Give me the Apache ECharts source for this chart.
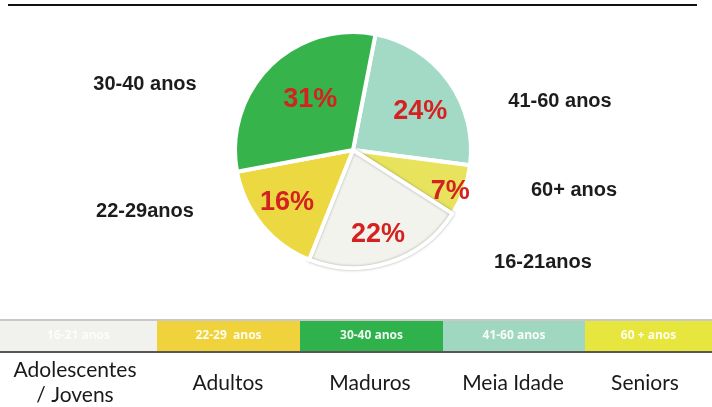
<!DOCTYPE html>
<html>
<head>
<meta charset="utf-8">
<script src="https://cdn.jsdelivr.net/npm/echarts@6/dist/echarts.min.js"></script>
<style>
  html, body { margin: 0; padding: 0; background: #fff; }
  #chart { width: 712px; height: 407px; }
</style>
</head>
<body>
<div id="chart"></div>
<script>
'use strict';

// pie slices, clockwise from the top
var sliceNames = ['41-60 anos', '60+ anos', '16-21anos', '22-29anos', '30-40 anos'];
var sliceValues = [24, 7, 22, 16, 31];
var sliceColors = ['#a3dac6', '#e7e35c', '#f3f3ee', '#ecd840', '#36b44b'];

// bottom band
var bandLabels = ['16-21 anos', '22-29  anos', '30-40 anos', '41-60 anos', '60 + anos'];
var bandColors = ['#f1f1ee', '#f0d33c', '#2fb14b', '#9fd7c1', '#e7e63e'];
var groupNames = ['Adolescentes\n/ Jovens', 'Adultos', 'Maduros', 'Meia Idade', 'Seniors'];

// layout only
var outerLabelPos = [[560, 101], [574, 190], [543, 262], [145, 211], [145, 84]];
var innerLabelShift = [[17, -2], [39, 20], [6, 26], [-18, 13], [1, -6]];
var bandEdges = [0, 157, 300, 443, 585, 712];
var groupCenters = [75, 228, 370, 513, 645];

var chart = echarts.init(document.getElementById('chart'), null, { renderer: 'canvas' });

var pieData = sliceNames.map(function (n, i) {
    var item = { name: n, value: sliceValues[i], itemStyle: { color: sliceColors[i] } };
    if (i === 2) {
        // the pale slice has a soft grey edge in the print
        item.itemStyle.shadowBlur = 3;
        item.itemStyle.shadowColor = 'rgba(0,0,0,0.3)';
    }
    return item;
});

var graphics = [
    { type: 'rect', shape: { x: 8, y: 4, width: 689, height: 2 }, style: { fill: '#111' } }
];

// outer category labels
sliceNames.forEach(function (n, i) {
    graphics.push({
        type: 'text', x: outerLabelPos[i][0], y: outerLabelPos[i][1],
        style: {
            text: n, fill: '#1c1c1c', font: 'bold 20px "Liberation Sans", Arial, sans-serif',
            align: 'center', verticalAlign: 'middle'
        }
    });
});

// band
graphics.push({ type: 'rect', shape: { x: 0, y: 319, width: 712, height: 2 }, style: { fill: '#c8c8c8' } });
bandLabels.forEach(function (t, i) {
    var x0 = bandEdges[i], x1 = bandEdges[i + 1];
    graphics.push({
        type: 'rect', shape: { x: x0, y: 321, width: x1 - x0, height: 30 },
        style: { fill: bandColors[i] }
    });
    graphics.push({
        type: 'text', x: (x0 + x1) / 2, y: 336,
        style: {
            text: t, fill: '#ffffff', opacity: i === 0 ? 0.8 : 0.92,
            font: 'bold 12px "Open Sans", sans-serif', align: 'center', verticalAlign: 'middle'
        }
    });
});
graphics.push({ type: 'rect', shape: { x: 0, y: 351, width: 712, height: 2 }, style: { fill: '#5a5650' } });

groupNames.forEach(function (g, i) {
    graphics.push({
        type: 'text', x: groupCenters[i], y: 383,
        style: {
            text: g, fill: '#1a1a1a', font: '21px Lato, sans-serif',
            align: 'center', verticalAlign: 'middle', lineHeight: 25
        }
    });
});

var option = {
    backgroundColor: '#ffffff',
    animation: false,
    series: [
        {
            type: 'pie',
            center: [353, 150],
            radius: [0, 118],
            startAngle: 79,
            clockwise: true,
            data: pieData,
            itemStyle: {
                borderColor: '#ffffff',
                borderWidth: 4
            },
            label: {
                position: 'inside',
                formatter: '{c}%',
                color: '#d42222',
                fontSize: 27,
                fontWeight: 'bold',
                fontFamily: '"Liberation Sans", Arial, sans-serif'
            },
            labelLayout: function (p) {
                var s = innerLabelShift[p.dataIndex];
                return { dx: s[0], dy: s[1] };
            },
            emphasis: { disabled: true }
        }
    ],
    graphic: graphics
};

chart.setOption(option);
</script>
</body>
</html>
